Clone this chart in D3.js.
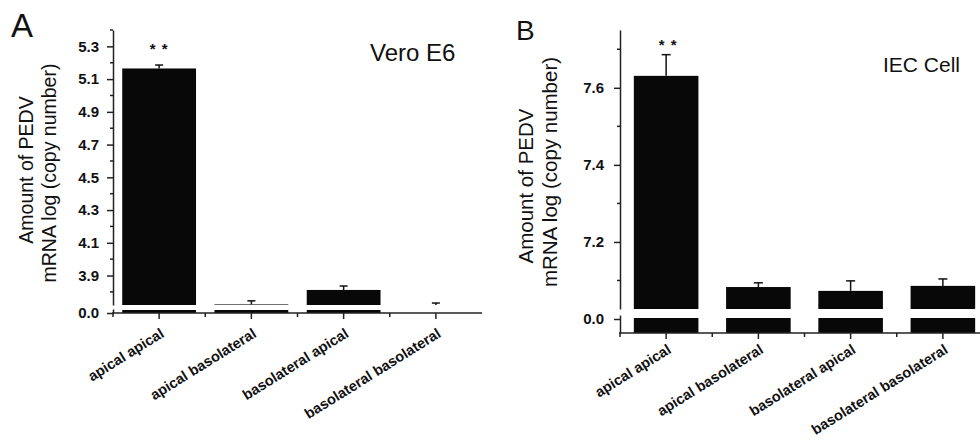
<!DOCTYPE html>
<html><head><meta charset="utf-8">
<script src="https://cdn.jsdelivr.net/npm/d3@7"></script>
<style>body{margin:0;background:#fff}svg{display:block}text{font-family:"Liberation Sans",Arial,sans-serif;fill:#111}</style>
</head><body>
<svg id="c" width="980" height="440"></svg>
<script>
// ---- data ----
const categories = ["apical apical", "apical basolateral", "basolateral apical", "basolateral basolateral"];
const veroValues = [5.165, 3.7235, 3.812, 3.72];
const veroErrors = [0.021, 0.022, 0.024, 0.012];
const iecValues = [7.631, 7.083, 7.073, 7.086];
const iecErrors = [0.055, 0.011, 0.026, 0.018];
const veroTicks = [3.9, 4.1, 4.3, 4.5, 4.7, 4.9, 5.1, 5.3];
const veroMinor = [3.8, 4.0, 4.2, 4.4, 4.6, 4.8, 5.0, 5.2, 5.4];
const iecTicks = [7.2, 7.4, 7.6];
const iecMinor = [7.1, 7.3, 7.5, 7.7];
const lowerTicks = [0.0];
const yTitleLines = ["Amount of PEDV", "mRNA log (copy number)"];
const significance = ["* *", "", "", ""];

const svg = d3.select("#c");

function panel(p) {
  const g = svg.append("g");
  const x = d3.scaleBand().domain(categories).range([p.axisX, p.xEnd]);
  const yU = d3.scaleLinear().domain(p.upperDomain).range(p.upperRange);
  const yL = d3.scaleLinear().domain(p.lowerDomain).range(p.lowerRange);
  const bw = x.bandwidth() * p.barFrac;
  const bx = d => x(d) + (x.bandwidth() - bw) / 2;
  const data = categories.map((c, i) => ({c, v: p.values[i], e: p.errors[i], s: significance[i]}));
  const uMin = p.upperDomain[0];

  // upper bars
  g.selectAll(".ub").data(data.filter(d => d.v > uMin)).join("rect")
    .attr("x", d => bx(d.c)).attr("width", bw)
    .attr("y", d => yU(d.v)).attr("height", d => yU(uMin) - yU(d.v))
    .attr("fill", "#080808");
  // lower bars (the part below the break)
  g.selectAll(".lb").data(data.filter(d => d.v > uMin)).join("rect")
    .attr("x", d => bx(d.c)).attr("width", bw)
    .attr("y", yL(p.lowerTop)).attr("height", yL(p.lowerDomain[0]) - yL(p.lowerTop))
    .attr("fill", "#080808");
  // error bars
  const eg = g.selectAll(".eb").data(data).join("g");
  eg.append("line").attr("x1", d => x(d.c) + x.bandwidth() / 2).attr("x2", d => x(d.c) + x.bandwidth() / 2)
    .attr("y1", d => yU(Math.max(d.v, uMin))).attr("y2", d => yU(d.v + d.e))
    .attr("stroke", "#111").attr("stroke-width", 1.5);
  eg.append("line").attr("x1", d => x(d.c) + x.bandwidth() / 2 - p.cap).attr("x2", d => x(d.c) + x.bandwidth() / 2 + p.cap)
    .attr("y1", d => yU(d.v + d.e)).attr("y2", d => yU(d.v + d.e))
    .attr("stroke", "#111").attr("stroke-width", 1.5);
  // significance
  g.selectAll(".sg").data(data.filter(d => d.s)).join("text")
    .attr("x", d => x(d.c) + x.bandwidth() / 2 + p.starDx).attr("y", p.starY)
    .attr("text-anchor", "middle").attr("font-size", 15).attr("font-weight", "bold")
    .attr("letter-spacing", "1px").text(d => d.s);

  // upper y axis
  const ua = g.append("g").attr("transform", `translate(${p.axisX},0)`)
    .call(d3.axisLeft(yU).tickValues(p.ticks).tickSize(6).tickSizeOuter(0).tickPadding(p.tickPad).tickFormat(d3.format(".1f")));
  ua.append("g").selectAll("line").data(p.minor).join("line")
    .attr("x1", -3).attr("x2", 0).attr("y1", d => yU(d)).attr("y2", d => yU(d));
  // lower y axis
  const la = g.append("g").attr("transform", `translate(${p.axisX},0)`)
    .call(d3.axisLeft(yL).tickValues(lowerTicks).tickSize(6).tickSizeOuter(0).tickPadding(p.tickPad).tickFormat(d3.format(".1f")));
  [ua, la].forEach(a => {
    a.selectAll("path,line").attr("stroke", "#222").attr("stroke-width", 1.5);
    a.selectAll("text").attr("font-size", 15).attr("font-weight", "bold").attr("fill", "#111");
  });

  // x axis
  const xb = yL(p.lowerDomain[0]);
  const xa = g.append("g");
  xa.append("line").attr("x1", p.axisX - 1).attr("x2", p.xEnd).attr("y1", xb).attr("y2", xb)
    .attr("stroke", "#222").attr("stroke-width", 1.5);
  xa.selectAll(".ct").data(categories).join("line")
    .attr("x1", d => x(d) + x.bandwidth() / 2).attr("x2", d => x(d) + x.bandwidth() / 2)
    .attr("y1", xb).attr("y2", xb + 6).attr("stroke", "#222").attr("stroke-width", 1.5);
  xa.selectAll(".bt").data(categories).join("line")
    .attr("x1", d => x(d)).attr("x2", d => x(d))
    .attr("y1", xb).attr("y2", xb + 4).attr("stroke", "#222").attr("stroke-width", 1.5);
  xa.selectAll("text").data(categories).join("text")
    .attr("transform", d => `translate(${x(d) + x.bandwidth() / 2 + 6},${xb + p.labelDy}) rotate(-32)`)
    .attr("text-anchor", "end").attr("font-size", 14.5).attr("font-weight", "bold").text(d => d);

  // y title
  yTitleLines.forEach((t, i) => {
    g.append("text").attr("transform", `translate(${p.ytX[i]},${p.ytY[i]}) rotate(-90)`)
      .attr("text-anchor", "middle").attr("font-size", p.ytSize).text(t);
  });
  // panel letter & title
  g.append("text").attr("x", p.letterX).attr("y", p.letterY).attr("font-size", p.letterSize).text(p.letter);
  g.append("text").attr("x", p.titleX).attr("y", p.titleY).attr("font-size", p.titleSize).text(p.title);
}

panel({
  letter: "A", letterX: 11, letterY: 37, letterSize: 33,
  title: "Vero E6", titleX: 370, titleY: 61, titleSize: 24,
  axisX: 113, xEnd: 482,
  upperDomain: [3.72, 5.4], upperRange: [305, 30],
  lowerDomain: [0, 0.06], lowerRange: [313, 309], lowerTop: 0.045,
  barFrac: 0.8, cap: 4, tickPad: 8, labelDy: 23,
  values: veroValues, errors: veroErrors, ticks: veroTicks, minor: veroMinor,
  starDx: 0, starY: 54,
  ytX: [33, 56], ytY: [170, 173], ytSize: 19.5
});
panel({
  letter: "B", letterX: 516, letterY: 40, letterSize: 28,
  title: "IEC Cell", titleX: 883, titleY: 72, titleSize: 21,
  axisX: 620, xEnd: 989,
  upperDomain: [7.026, 7.75], upperRange: [309, 30],
  lowerDomain: [-0.07, 0.02], lowerRange: [333, 315], lowerTop: 0.005,
  barFrac: 0.7, cap: 4.5, tickPad: 10, labelDy: 19,
  values: iecValues, errors: iecErrors, ticks: iecTicks, minor: iecMinor,
  starDx: 2, starY: 50,
  ytX: [533, 557], ytY: [186, 172], ytSize: 20.5
});
</script>
</body></html>
